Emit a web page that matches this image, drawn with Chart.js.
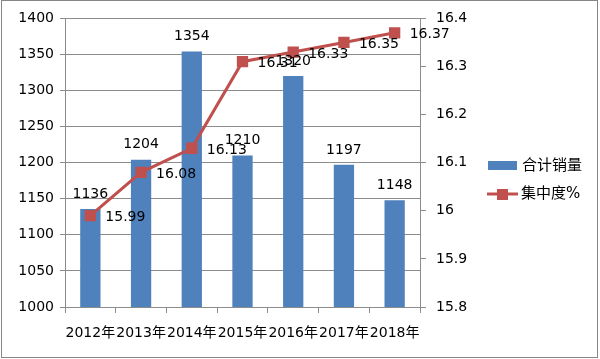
<!DOCTYPE html>
<html>
<head>
<meta charset="utf-8">
<script src="https://cdn.jsdelivr.net/npm/chart.js@4/dist/chart.umd.min.js"></script>
<style>
  html, body { margin: 0; padding: 0; background: #fff; }
  #wrap { width: 600px; height: 359px; }
</style>
</head>
<body>
<div id="wrap"><canvas id="chart" width="600" height="359"></canvas></div>
<script>
const years = ["2012年", "2013年", "2014年", "2015年", "2016年", "2017年", "2018年"];
const sales = [1136, 1204, 1354, 1210, 1320, 1197, 1148];
const share = [15.99, 16.08, 16.13, 16.31, 16.33, 16.35, 16.37];

const FONT = '"DejaVu Sans", "Noto Sans CJK SC", sans-serif';
const BLUE = "#4F81BD";
const RED = "#C0504D";
const GRID = "#8C8C8C";

// value labels + legend + outer frame
const extras = {
    id: "extras",
    afterDatasetsDraw(chart) {
        const ctx = chart.ctx;
        ctx.save();
        ctx.font = "14px " + FONT;
        ctx.fillStyle = "#000";

        chart.getDatasetMeta(0).data.forEach((bar, i) => {
            ctx.textAlign = "center";
            ctx.textBaseline = "bottom";
            ctx.fillText(String(sales[i]), bar.x, bar.y - 8);
        });
        chart.getDatasetMeta(1).data.forEach((pt, i) => {
            ctx.textAlign = "left";
            ctx.textBaseline = "middle";
            ctx.fillText(share[i].toFixed(2), pt.x + 15, pt.y + 2);
        });

        // legend
        ctx.fillStyle = BLUE;
        ctx.fillRect(488, 161, 29, 9);
        ctx.strokeStyle = RED;
        ctx.lineWidth = 3;
        ctx.beginPath();
        ctx.moveTo(487, 194);
        ctx.lineTo(518, 194);
        ctx.stroke();
        ctx.fillStyle = RED;
        ctx.fillRect(497, 189, 11, 11);
        ctx.fillStyle = "#000";
        ctx.textAlign = "left";
        ctx.textBaseline = "middle";
        ctx.font = "15px " + FONT;
        ctx.fillText(chart.data.datasets[0].label, 522, 166);
        ctx.fillText(chart.data.datasets[1].label, 521, 194);

        // frame
        ctx.strokeStyle = "#868686";
        ctx.lineWidth = 1;
        ctx.strokeRect(1.5, 0.5, 596, 357);
        ctx.restore();
    }
};

new Chart(document.getElementById("chart"), {
    type: "bar",
    data: {
        labels: years,
        datasets: [
            {
                label: "合计销量",
                data: sales,
                backgroundColor: BLUE,
                yAxisID: "y",
                categoryPercentage: 1,
                barPercentage: 0.4,
                order: 2
            },
            {
                type: "line",
                label: "集中度%",
                data: share,
                borderColor: RED,
                backgroundColor: RED,
                borderWidth: 3,
                pointStyle: "rect",
                pointRadius: 8,
                pointBorderWidth: 0,
                pointBackgroundColor: RED,
                yAxisID: "y1",
                order: 1
            }
        ]
    },
    options: {
        responsive: false,
        animation: false,
        layout: { padding: { top: 18, left: 0, right: 0, bottom: 0 } },
        plugins: {
            legend: { display: false },
            tooltip: { enabled: false }
        },
        scales: {
            x: {
                offset: true,
                grid: { offset: true, drawOnChartArea: false, drawTicks: true, tickLength: 6, color: GRID },
                border: { color: GRID },
                ticks: { color: "#000", font: { size: 14, family: FONT }, padding: 12, maxRotation: 0, autoSkip: false },
                afterFit(scale) { scale.height = 52; }
            },
            y: {
                position: "left",
                min: 1000,
                max: 1400,
                ticks: {
                    stepSize: 50,
                    color: "#000",
                    font: { size: 14, family: FONT },
                    padding: 6,
                    callback: v => String(v)
                },
                grid: { color: GRID, tickLength: 5 },
                border: { color: GRID },
                afterFit(scale) { scale.width = 65; }
            },
            y1: {
                position: "right",
                min: 15.8,
                max: 16.4,
                ticks: {
                    stepSize: 0.1,
                    color: "#000",
                    font: { size: 14, family: FONT },
                    padding: 10,
                    callback: v => String(Number(v.toFixed(1)))
                },
                grid: { drawOnChartArea: false, color: GRID, tickLength: 6 },
                border: { color: GRID },
                afterFit(scale) { scale.width = 180; }
            }
        }
    },
    plugins: [extras]
});
</script>
</body>
</html>
